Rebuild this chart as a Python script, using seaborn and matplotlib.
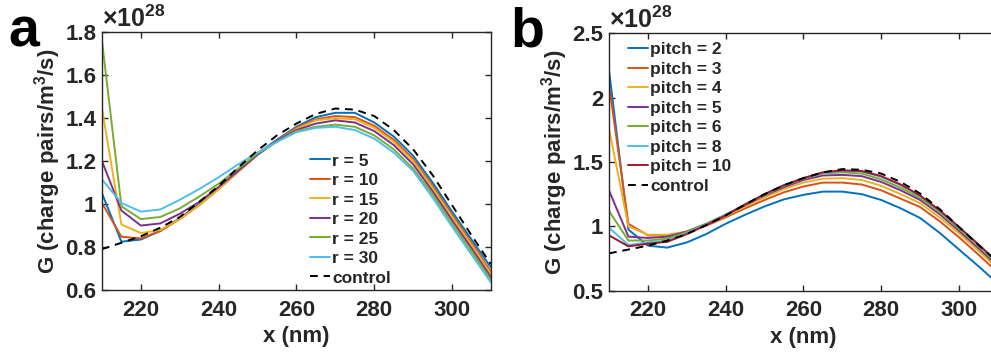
import numpy as np
import pandas as pd
import matplotlib
matplotlib.use("Agg")
import matplotlib.pyplot as plt
import seaborn as sns
from matplotlib.ticker import FormatStrFormatter

# ==========================================
# Data (G in units of 1e28 charge pairs/m^3/s)
# ==========================================

x_nm = [210, 215, 220, 225, 230, 235, 240, 245, 250, 255, 260,
        265, 270, 275, 280, 285, 290, 295, 300, 305, 310]

control = [0.79, 0.82, 0.85, 0.89, 0.94, 1.01, 1.085, 1.17, 1.25, 1.32, 1.375,
           1.42, 1.445, 1.44, 1.41, 1.345, 1.255, 1.135, 0.995, 0.855, 0.72]

# panel a: radius
r_labels = ["r = 5", "r = 10", "r = 15", "r = 20", "r = 25", "r = 30"]
r5 = [1.05, 0.825, 0.835, 0.875, 0.935, 1.0, 1.075, 1.155, 1.235, 1.30, 1.36,
      1.405, 1.425, 1.425, 1.38, 1.315, 1.225, 1.10, 0.965, 0.835, 0.705]
r10 = [1.005, 0.848, 0.84, 0.875, 0.93, 0.995, 1.07, 1.15, 1.23, 1.295, 1.355,
       1.395, 1.41, 1.405, 1.365, 1.30, 1.21, 1.085, 0.95, 0.82, 0.685]
r15 = [1.445, 0.905, 0.865, 0.88, 0.93, 0.995, 1.07, 1.15, 1.23, 1.295, 1.35,
       1.39, 1.40, 1.395, 1.355, 1.29, 1.20, 1.075, 0.94, 0.81, 0.675]
r20 = [1.20, 0.97, 0.90, 0.91, 0.955, 1.01, 1.08, 1.155, 1.23, 1.295, 1.345,
       1.375, 1.39, 1.38, 1.34, 1.275, 1.185, 1.06, 0.925, 0.795, 0.66]
r25 = [1.76, 0.99, 0.93, 0.94, 0.98, 1.035, 1.095, 1.165, 1.235, 1.29, 1.34,
       1.36, 1.37, 1.36, 1.32, 1.255, 1.165, 1.045, 0.91, 0.78, 0.648]
r30 = [1.115, 1.005, 0.965, 0.975, 1.02, 1.07, 1.125, 1.185, 1.24, 1.29, 1.335,
       1.355, 1.36, 1.345, 1.305, 1.24, 1.155, 1.03, 0.895, 0.765, 0.635]

# panel b: pitch
p_labels = ["pitch = 2", "pitch = 3", "pitch = 4", "pitch = 5",
            "pitch = 6", "pitch = 8", "pitch = 10"]
p2 = [2.215, 0.975, 0.85, 0.835, 0.875, 0.94, 1.02, 1.09, 1.155, 1.21, 1.245,
      1.27, 1.27, 1.25, 1.205, 1.14, 1.065, 0.95, 0.82, 0.69, 0.555]
p3 = [2.10, 1.02, 0.93, 0.93, 0.955, 1.005, 1.07, 1.14, 1.205, 1.265, 1.31,
      1.34, 1.34, 1.325, 1.28, 1.215, 1.15, 1.04, 0.915, 0.78, 0.64]
p4 = [1.76, 1.00, 0.935, 0.935, 0.96, 1.015, 1.08, 1.155, 1.225, 1.29, 1.34,
      1.37, 1.375, 1.36, 1.315, 1.25, 1.18, 1.07, 0.945, 0.81, 0.67]
p5 = [1.28, 0.92, 0.91, 0.92, 0.96, 1.02, 1.09, 1.165, 1.24, 1.305, 1.36,
      1.395, 1.40, 1.39, 1.345, 1.28, 1.205, 1.095, 0.965, 0.83, 0.69]
p6 = [1.12, 0.89, 0.89, 0.905, 0.955, 1.02, 1.09, 1.17, 1.245, 1.315, 1.37,
      1.41, 1.42, 1.41, 1.365, 1.30, 1.22, 1.11, 0.98, 0.845, 0.705]
p8 = [0.99, 0.855, 0.875, 0.89, 0.945, 1.015, 1.09, 1.17, 1.25, 1.32, 1.375,
      1.415, 1.43, 1.425, 1.385, 1.32, 1.235, 1.12, 0.99, 0.855, 0.715]
p10 = [0.93, 0.845, 0.865, 0.88, 0.94, 1.01, 1.085, 1.17, 1.25, 1.32, 1.375,
       1.42, 1.435, 1.43, 1.39, 1.325, 1.24, 1.125, 0.995, 0.86, 0.72]

matlab_colors = ["#0072BD", "#D95319", "#EDB120", "#7E2F8E",
                 "#77AC30", "#4DBEEE", "#A2142F"]

x_ticks = [220, 240, 260, 280, 300]
a_yticks = [0.6, 0.8, 1, 1.2, 1.4, 1.6, 1.8]
b_yticks = [0.5, 1, 1.5, 2, 2.5]

# ==========================================
# Style
# ==========================================

sns.set_style("ticks")
plt.rcParams["font.family"] = ["Liberation Sans", "DejaVu Sans"]
plt.rcParams["font.weight"] = "bold"
plt.rcParams["mathtext.fontset"] = "custom"
plt.rcParams["mathtext.rm"] = "Liberation Sans"
plt.rcParams["mathtext.bf"] = "Liberation Sans:bold"

fig = plt.figure(figsize=(9.91, 3.56), dpi=100)
ax_a = fig.add_axes([0.1029, 0.1854, 0.3925, 0.7239])
ax_b = fig.add_axes([0.6145, 0.1834, 0.3925, 0.7230])


def style_axes(ax, ylim, yticks):
    ax.set_xlim(210, 310)
    ax.set_ylim(*ylim)
    ax.set_xticks(x_ticks)
    ax.set_yticks(yticks)
    ax.yaxis.set_major_formatter(FormatStrFormatter("%g"))
    ax.tick_params(direction="in", length=4, width=1, colors="#262626",
                   labelsize=16, top=True, right=True)
    ax.tick_params(axis="x", pad=7)
    ax.tick_params(axis="y", pad=4)
    for s in ax.spines.values():
        s.set_visible(True)
        s.set_color("#262626")
        s.set_linewidth(1.0)
    ax.set_xlabel("x (nm)", fontsize=16, fontweight="bold", color="#262626",
                  labelpad=4)
    ax.set_ylabel(r"G (charge pairs/m$^{\mathbf{3}}$/s)", fontsize=16,
                  fontweight="bold", color="#262626", labelpad=2)
    ax.text(0.0, 1.0, r"$\times\mathregular{10}^{\mathregular{28}}$",
            transform=ax.transAxes, ha="left", va="bottom", fontsize=18,
            color="#262626")


legend_kw = dict(loc="upper left", frameon=False, fontsize=12.5,
                 handlelength=1.15, handletextpad=0.12, labelspacing=0.25,
                 borderpad=0, borderaxespad=0)

# ==========================================
# Panel a
# ==========================================

for vals, lab, col in zip([r5, r10, r15, r20, r25, r30], r_labels, matlab_colors):
    sns.lineplot(x=x_nm, y=vals, ax=ax_a, color=col, lw=1.4, label=lab)
sns.lineplot(x=x_nm, y=control, ax=ax_a, color="black", lw=1.4,
             linestyle=(0, (4, 3)), label="control")

style_axes(ax_a, (0.6, 1.8), a_yticks)
ax_a.legend(bbox_to_anchor=(0.535, 0.53), **legend_kw)

# ==========================================
# Panel b
# ==========================================

for vals, lab, col in zip([p2, p3, p4, p5, p6, p8, p10], p_labels, matlab_colors):
    sns.lineplot(x=x_nm, y=vals, ax=ax_b, color=col, lw=1.4, label=lab)
sns.lineplot(x=x_nm, y=control, ax=ax_b, color="black", lw=1.4,
             linestyle=(0, (4, 3)), label="control")

style_axes(ax_b, (0.5, 2.5), b_yticks)
ax_b.legend(bbox_to_anchor=(0.05, 0.965), **legend_kw)

# panel letters
fig.text(0.008, 0.87, "a", fontsize=40, fontweight="bold", color="black")
fig.text(0.515, 0.87, "b", fontsize=40, fontweight="bold", color="black")

plt.savefig("out.png", dpi=100)
